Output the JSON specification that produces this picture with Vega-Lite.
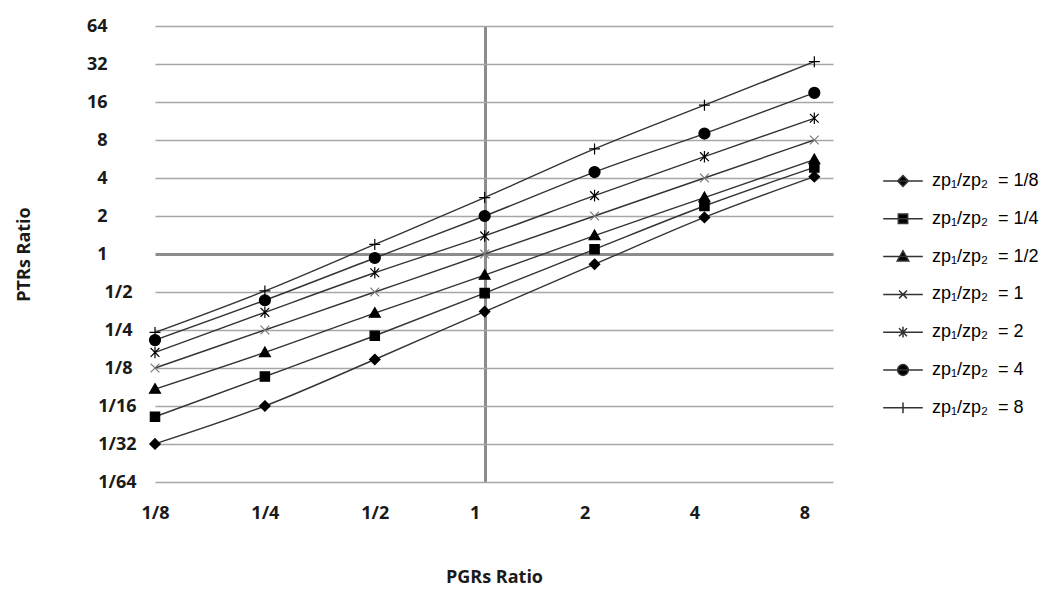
{
  "$schema": "https://vega.github.io/schema/vega-lite/v6.json",
  "width": 678,
  "height": 456,
  "autosize": {"type": "none"},
  "padding": {"left": 155, "top": 26, "right": 230, "bottom": 118},
  "background": "white",
  "config": {"view": {"stroke": null}, "font": "Open Sans"},
  "data": {
    "values": [
      {"series": "1/8", "x": 0.125, "y": 0.0313},
      {"series": "1/8", "x": 0.25, "y": 0.0625},
      {"series": "1/8", "x": 0.5, "y": 0.146},
      {"series": "1/8", "x": 1, "y": 0.35},
      {"series": "1/8", "x": 2, "y": 0.83},
      {"series": "1/8", "x": 4, "y": 1.95},
      {"series": "1/8", "x": 8, "y": 4.1},
      {"series": "1/4", "x": 0.125, "y": 0.0514},
      {"series": "1/4", "x": 0.25, "y": 0.107},
      {"series": "1/4", "x": 0.5, "y": 0.225},
      {"series": "1/4", "x": 1, "y": 0.49},
      {"series": "1/4", "x": 2, "y": 1.09},
      {"series": "1/4", "x": 4, "y": 2.4},
      {"series": "1/4", "x": 8, "y": 4.85},
      {"series": "1/2", "x": 0.125, "y": 0.085},
      {"series": "1/2", "x": 0.25, "y": 0.166},
      {"series": "1/2", "x": 0.5, "y": 0.34},
      {"series": "1/2", "x": 1, "y": 0.68},
      {"series": "1/2", "x": 2, "y": 1.4},
      {"series": "1/2", "x": 4, "y": 2.8},
      {"series": "1/2", "x": 8, "y": 5.6},
      {"series": "1", "x": 0.125, "y": 0.125},
      {"series": "1", "x": 0.25, "y": 0.25},
      {"series": "1", "x": 0.5, "y": 0.5},
      {"series": "1", "x": 1, "y": 1},
      {"series": "1", "x": 2, "y": 2},
      {"series": "1", "x": 4, "y": 4},
      {"series": "1", "x": 8, "y": 8},
      {"series": "2", "x": 0.125, "y": 0.166},
      {"series": "2", "x": 0.25, "y": 0.345},
      {"series": "2", "x": 0.5, "y": 0.71},
      {"series": "2", "x": 1, "y": 1.39},
      {"series": "2", "x": 2, "y": 2.9},
      {"series": "2", "x": 4, "y": 5.9},
      {"series": "2", "x": 8, "y": 11.9},
      {"series": "4", "x": 0.125, "y": 0.208},
      {"series": "4", "x": 0.25, "y": 0.43},
      {"series": "4", "x": 0.5, "y": 0.93},
      {"series": "4", "x": 1, "y": 2.0},
      {"series": "4", "x": 2, "y": 4.46},
      {"series": "4", "x": 4, "y": 9.0},
      {"series": "4", "x": 8, "y": 18.9},
      {"series": "8", "x": 0.125, "y": 0.239},
      {"series": "8", "x": 0.25, "y": 0.51},
      {"series": "8", "x": 0.5, "y": 1.19},
      {"series": "8", "x": 1, "y": 2.8},
      {"series": "8", "x": 2, "y": 6.8},
      {"series": "8", "x": 4, "y": 15.1},
      {"series": "8", "x": 8, "y": 33.4}
    ]
  },
  "encoding": {
    "x": {
      "field": "x",
      "type": "quantitative",
      "title": "PGRs Ratio",
      "scale": {"type": "log", "base": 2, "domain": [0.125, 9.0], "nice": false},
      "axis": {
        "tickValues": [0.125, 0.25, 0.5, 1, 2, 4, 8],
        "labelExpr": "datum.value < 1 ? '1/' + round(1/datum.value) : '' + datum.value",
        "labelOffset": {"condition": {"test": "datum.value >= 1", "value": -10}, "value": 0},
        "labelPadding": 22,
        "labelFlush": false,
        "labelOverlap": false,
        "ticks": false,
        "domain": false,
        "grid": true,
        "gridColor": "#8c8c8c",
        "gridWidth": 3,
        "gridOpacity": {"condition": {"test": "datum.value === 1", "value": 1}, "value": 0},
        "labelFont": "Open Sans",
        "labelFontSize": 18,
        "labelFontWeight": "bold",
        "labelColor": "#1a1a1a",
        "titleFont": "Open Sans",
        "titleFontSize": 18,
        "titleFontWeight": "bold",
        "titleColor": "#1a1a1a",
        "titlePadding": 46
      }
    },
    "y": {
      "field": "y",
      "type": "quantitative",
      "title": "PTRs Ratio",
      "scale": {"type": "log", "base": 2, "domain": [0.015625, 64], "nice": false},
      "axis": {
        "tickValues": [0.015625, 0.03125, 0.0625, 0.125, 0.25, 0.5, 1, 2, 4, 8, 16, 32, 64],
        "labelExpr": "datum.value < 1 ? '1/' + round(1/datum.value) : '' + datum.value",
        "labelAlign": "right",
        "labelBaseline": "middle",
        "labelPadding": {"condition": [{"test": "datum.value >= 1", "value": 48}, {"test": "datum.value >= 0.1", "value": 23}], "value": 19},
        "labelFlush": false,
        "labelOverlap": false,
        "ticks": false,
        "domain": false,
        "grid": true,
        "gridColor": {"condition": {"test": "datum.value === 1", "value": "#8c8c8c"}, "value": "#a6a6a6"},
        "gridWidth": {"condition": {"test": "datum.value === 1", "value": 3}, "value": 1.5},
        "labelFont": "Open Sans",
        "labelFontSize": 18,
        "labelFontWeight": "bold",
        "labelColor": "#1a1a1a",
        "titleFont": "Open Sans",
        "titleFontSize": 18,
        "titleFontWeight": "bold",
        "titleColor": "#1a1a1a",
        "titlePadding": 53
      }
    }
  },
  "layer": [
    {
      "mark": {"type": "line", "interpolate": "monotone", "stroke": "#333333", "strokeWidth": 1.4},
      "encoding": {"detail": {"field": "series"}}
    },
    {
      "mark": {"type": "point", "filled": true, "size": 121, "fill": "black", "strokeWidth": 1.2, "opacity": 1},
      "encoding": {
        "shape": {
          "field": "series",
          "type": "nominal",
          "scale": {
            "domain": ["1/8", "1/4", "1/2", "1", "2", "4", "8"],
            "range": [
              "M0,-0.95L0.95,0L0,0.95L-0.95,0Z",
              "M-0.85,-0.85H0.85V0.85H-0.85Z",
              "M0,-1L1,0.75H-1Z",
              "M-0.8,-0.8L0.8,0.8M-0.8,0.8L0.8,-0.8",
              "M-0.8,-0.8L0.8,0.8M-0.8,0.8L0.8,-0.8M0,-1.05V1.05",
              "circle",
              "M-1,0H1M0,-1V1"
            ]
          },
          "legend": null
        },
        "stroke": {"condition": {"test": "datum.series === '1'", "value": "#7a7a7a"}, "value": "#000000"}
      }
    },
    {
      "transform": [{"filter": "false"}],
      "mark": {"type": "point", "filled": true, "size": 1296, "fill": "black", "stroke": "#333333", "strokeWidth": 1.4, "opacity": 1},
      "encoding": {
        "shape": {
          "field": "series",
          "type": "nominal",
          "scale": {
            "domain": ["1/8", "1/4", "1/2", "1", "2", "4", "8"],
            "range": [
              "M-1.1,0H1.1M0,-0.3L0.3,0L0,0.3L-0.3,0Z",
              "M-1.1,0H1.1M-0.26,-0.26H0.26V0.26H-0.26Z",
              "M-1.1,0H1.1M0,-0.32L0.32,0.24H-0.32Z",
              "M-1.1,0H1.1M-0.22,-0.22L0.22,0.22M-0.22,0.22L0.22,-0.22",
              "M-1.1,0H1.1M-0.22,-0.22L0.22,0.22M-0.22,0.22L0.22,-0.22M0,-0.3V0.3",
              "M-1.1,0H1.1M-0.3,0A0.3,0.3,0,1,0,0.3,0A0.3,0.3,0,1,0,-0.3,0Z",
              "M-1.1,0H1.1M0,-0.3V0.3"
            ]
          },
          "legend": {
            "title": null,
            "orient": "none",
            "legendX": 729,
            "legendY": 136,
            "padding": 0,
            "rowPadding": 9.8,
            "symbolSize": 1296,
            "labelExpr": "'zp₁/zp₂\u00a0 = ' + datum.label",
            "labelFont": "Liberation Sans",
            "labelFontSize": 18,
            "labelColor": "#000000",
            "labelOffset": 10,
            "symbolOpacity": 1,
            "encode": {
              "symbols": {
                "update": {
                  "fill": {"value": "#000000"},
                  "stroke": {"signal": "datum.value === '1' ? '#808080' : '#333333'"},
                  "strokeWidth": {"value": 1.4},
                  "opacity": {"value": 1}
                }
              }
            }
          }
        }
      }
    }
  ],
  "resolve": {"scale": {"shape": "independent"}}
}
